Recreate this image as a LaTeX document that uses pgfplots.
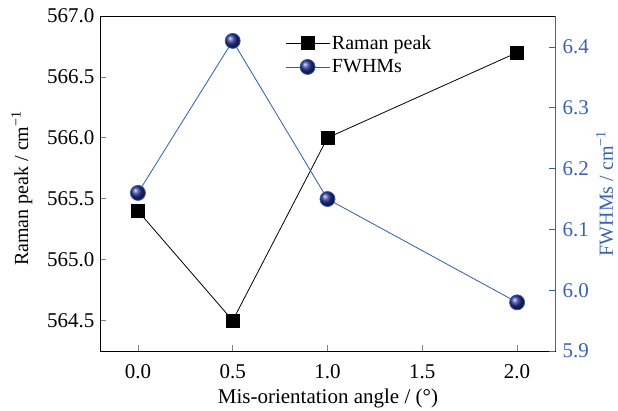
\documentclass[border=0pt]{standalone}
\usepackage{fontspec}
\setmainfont{Liberation Serif}
\usepackage{pgfplots}
\pgfplotsset{compat=1.18}
\definecolor{axblue}{HTML}{3A62B4}
\definecolor{ballblue}{HTML}{24308F}
\definecolor{lineblue}{HTML}{2F5BAA}

\pgfplotsset{
  base/.style={
    scale only axis, width=455pt, height=335pt,
    xmin=-0.2, xmax=2.2,
    tick align=inside, major tick length=6pt,
    /pgf/number format/assume math mode=true,
    /pgf/number format/fixed, /pgf/number format/fixed zerofill,
    /pgf/number format/precision=1,
    xticklabel={\pgfmathprintnumber{\tick}},
    yticklabel={\pgfmathprintnumber{\tick}},
    tick label style={font=\fontsize{21}{25}\selectfont},
    label style={font=\fontsize{20}{24}\selectfont},
    every axis plot/.append style={line width=0.8pt},
    axis line style={line width=0.8pt},
    tick style={line width=0.8pt},
  }
}

\begin{document}
\begin{tikzpicture}
\useasboundingbox (-100pt,-59pt) rectangle (518pt,351pt);

\begin{axis}[
    base,
    ymin=564.25, ymax=567.0,
    xtick={0,0.5,1,1.5,2},
    ytick={564.5,565,565.5,566,566.5,567},
    xtick pos=lower, ytick pos=left,
    xticklabel style={anchor=base, yshift=-27pt},
    yticklabel style={xshift=-2pt},
    xlabel={Mis-orientation angle / (°)},
    xlabel style={at={(axis description cs:0.501,-0.158)}, anchor=base,
      font=\fontsize{21}{25}\selectfont},
    ylabel={Raman peak / cm\textsuperscript{−1}},
    ylabel style={at={(axis description cs:-0.158,0.485)}, anchor=base},
]
\addplot[black, mark=square*, mark size=6.5pt, mark options={solid}] coordinates {
    (0,565.4) (0.5,564.5) (1,566.0) (2,566.7)
};
\end{axis}

\begin{axis}[
    base,
    ymin=5.9, ymax=6.451,
    ytick={5.9,6.0,6.1,6.2,6.3,6.4},
    axis x line=none,
    axis y line*=right,
    y axis line style={draw=axblue},
    ytick style={draw=axblue},
    yticklabel style={text=axblue, xshift=4pt},
    ylabel={FWHMs / cm\textsuperscript{−1}},
    ylabel style={text=axblue, at={(axis description cs:1.127,0.47)}, anchor=base},
    legend style={at={(0.40,0.955)}, anchor=north west, draw=none, fill=none,
      font=\fontsize{20}{24}\selectfont},
    legend cell align=left,
    legend style={row sep=5pt},
    legend image code/.code={
      \draw[mark repeat=2, mark phase=2] plot coordinates {(0pt,0pt) (22pt,0pt) (44pt,0pt)};
    },
]
\addlegendimage{black, line width=0.8pt, mark=square*, mark size=6.5pt}
\addlegendentry{Raman peak}
\addplot[lineblue, mark=ball, mark options={ball color=ballblue}, mark size=7.5pt] coordinates {
    (0,6.16) (0.5,6.41) (1,6.15) (2,5.98)
};
\addlegendentry{FWHMs}
\end{axis}
\end{tikzpicture}
\end{document}
